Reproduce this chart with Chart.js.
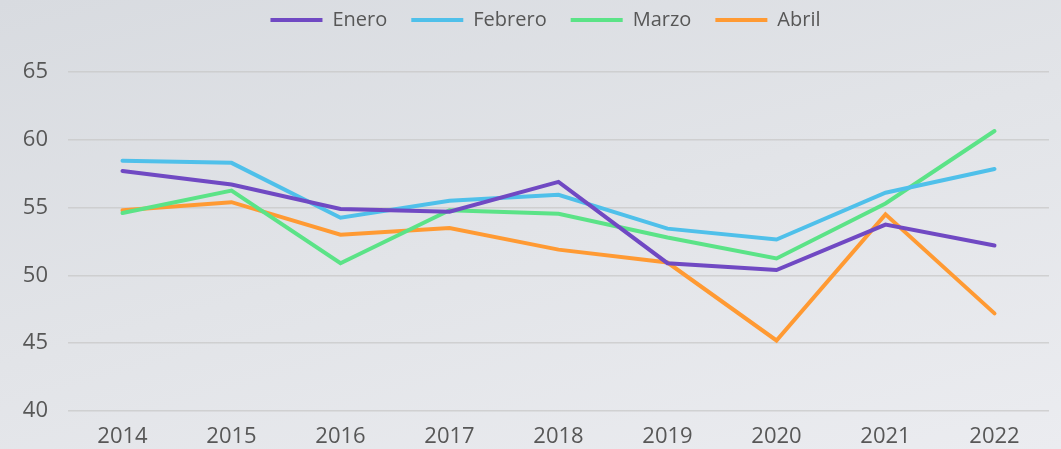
<!DOCTYPE html>
<html>
<head>
<meta charset="utf-8">
<script src="https://cdn.jsdelivr.net/npm/chart.js@4.4.0/dist/chart.umd.min.js"></script>
<style>
  html, body { margin: 0; padding: 0; }
  body { width: 1061px; height: 449px; background: linear-gradient(165deg, #d8dbe0 0%, #e2e4e8 50%, #ebecf0 100%); overflow: hidden; }
  #wrap { width: 1061px; height: 449px; position: relative; }
</style>
</head>
<body>
<div id="wrap"><canvas id="c" width="1061" height="449"></canvas></div>
<script>
const years = ['2014', '2015', '2016', '2017', '2018', '2019', '2020', '2021', '2022'];
const enero   = [57.7, 56.7, 54.9, 54.7, 56.9, 50.9, 50.4, 53.75, 52.2];
const febrero = [58.45, 58.3, 54.25, 55.5, 55.95, 53.45, 52.65, 56.1, 57.85];
const marzo   = [54.6, 56.25, 50.9, 54.8, 54.55, 52.8, 51.25, 55.3, 60.65];
const abril   = [54.8, 55.4, 53.0, 53.5, 51.9, 50.95, 45.2, 54.5, 47.2];
const yTicks  = [40, 45, 50, 55, 60, 65];

const textColor = '#575757';
const font = "'Open Sans', 'Noto Sans', sans-serif";

function ds(label, data, color) {
  return { label, data, borderColor: color, backgroundColor: color, borderWidth: 4,
           pointRadius: 0, pointHoverRadius: 0, tension: 0, fill: false,
           borderCapStyle: 'round', borderJoinStyle: 'miter' };
}

const legendGap = {
  id: 'legendGap',
  beforeLayout(chart) {
    const lg = chart.legend;
    if (lg && !lg._gapPatched) {
      const orig = lg.fit.bind(lg);
      lg.fit = function () { orig(); this.height += 32; };
      lg._gapPatched = true;
    }
  },
  afterLayout(chart) {
    const lg = chart.legend;
    if (lg) { lg.left += 21; lg.right += 21; }
  }
};

new Chart(document.getElementById('c'), {
  type: 'line',
  data: {
    labels: years,
    datasets: [
      ds('Enero', enero, '#7049c3'),
      ds('Febrero', febrero, '#4fc0ea'),
      ds('Marzo', marzo, '#5be387'),
      ds('Abril', abril, '#ff9a33')
    ]
  },
  plugins: [legendGap],
  options: {
    responsive: false,
    animation: false,
    layout: { padding: { left: 0, right: 12, top: -14, bottom: 0 } },
    plugins: {
      tooltip: { enabled: false },
      legend: {
        position: 'top',
        labels: {
          usePointStyle: true,
          pointStyle: 'line',
          pointStyleWidth: 52,
          boxHeight: 20,
          padding: 24,
          color: textColor,
          font: { family: font, size: 20 }
        }
      }
    },
    scales: {
      x: {
        offset: true,
        grid: { display: false, drawTicks: false },
        border: { display: false },
        ticks: { color: textColor, font: { family: font, size: 22 }, padding: 13, maxRotation: 0 },
        afterFit: s => { s.height = 38; }
      },
      y: {
        min: 40, max: 65,
        afterBuildTicks: s => { s.ticks = yTicks.map(v => ({ value: v })); },
        grid: { color: 'rgba(200,200,200,0.75)', lineWidth: 1.5, drawTicks: false },
        border: { display: false },
        ticks: { color: textColor, font: { family: font, size: 22 }, padding: 20 },
        afterFit: s => { s.width = 68; }
      }
    }
  }
});
</script>
</body>
</html>
